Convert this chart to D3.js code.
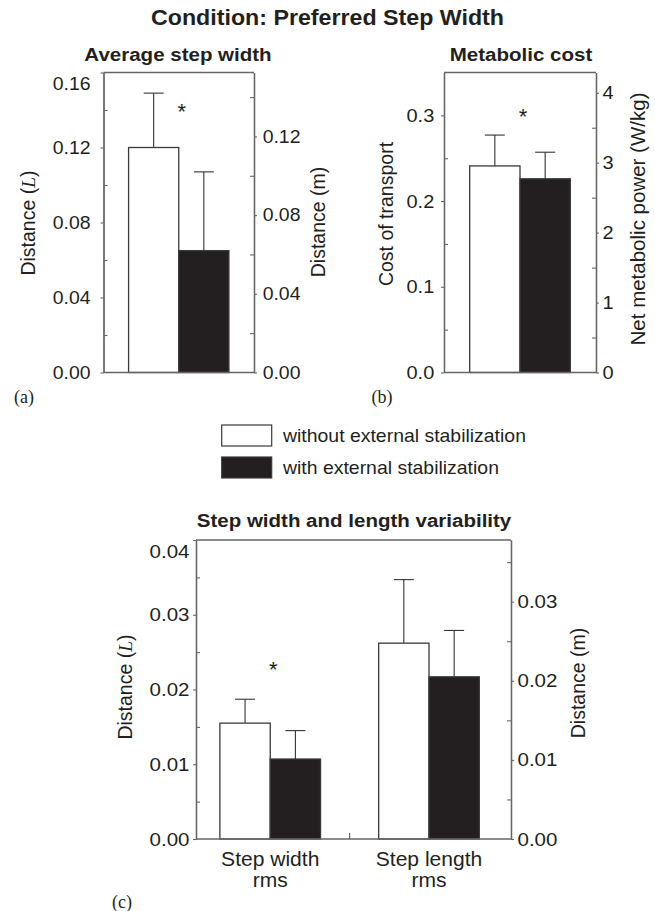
<!DOCTYPE html>
<html>
<head>
<meta charset="utf-8">
<script src="https://cdn.jsdelivr.net/npm/d3@7/dist/d3.min.js"></script>
<style>
  html, body { margin: 0; padding: 0; background: #fff; }
  svg { display: block; }
</style>
</head>
<body>
<svg id="chart" width="655" height="911"></svg>
<script>
// ---------------- DATA ----------------
const seriesNames = ["without external stabilization", "with external stabilization"];

// (a) Average step width, in leg lengths L
const stepWidthMean = [0.120, 0.065];
const stepWidthErr  = [0.029, 0.042];
const stepWidthSig  = 0.1417;

// (b) Metabolic cost, cost of transport
const costMean = [0.241, 0.226];
const costErr  = [0.036, 0.031];
const costSig  = 0.304;

// (c) Step width and length variability, in L
const varCategories = ["Step width rms", "Step length rms"];
const varMeanWithout = [0.0155, 0.0262];
const varErrWithout  = [0.0032, 0.0085];
const varMeanWith    = [0.0107, 0.0217];
const varErrWith     = [0.0038, 0.0062];
const varSig = [0.0233, null];

// tick values
const aLeftTicks  = [0, 0.04, 0.08, 0.12, 0.16];
const aLeftMinor  = [0.02, 0.06, 0.10, 0.14];
const aRightTicks = [0, 0.04, 0.08, 0.12];
const aRightMinor = [0.02, 0.06, 0.10, 0.14];
const bLeftTicks  = [0, 0.1, 0.2, 0.3];
const bLeftMinor  = [0.05, 0.15, 0.25];
const bRightTicks = [0, 1, 2, 3, 4];
const bRightMinor = [0.5, 1.5, 2.5, 3.5];
const cLeftTicks  = [0, 0.01, 0.02, 0.03, 0.04];
const cLeftMinor  = [0.005, 0.015, 0.025, 0.035];
const cRightTicks = [0, 0.01, 0.02, 0.03];
const cRightMinor = [0.005, 0.015, 0.025, 0.035];

// ---------------- STYLE ----------------
const SANS = "'Liberation Sans', Arial, Helvetica, sans-serif";
const SERIF = "'Liberation Serif', 'Times New Roman', serif";
const TXT = "#231f20";
const SX = 1.08;
const fills = ["#ffffff", "#231f20"];
const AXIS_COLOR = "#666666";

const svg = d3.select("#chart");

function hText(x, y, str, opts = {}) {
  const t = svg.append("text")
    .attr("transform", `translate(${x},${y}) scale(${opts.sx ?? SX},1)`)
    .attr("text-anchor", opts.anchor || "middle")
    .attr("font-family", opts.family || SANS)
    .attr("font-size", opts.size || 18)
    .attr("font-weight", opts.weight || "normal")
    .attr("fill", TXT)
    .text(str);
  if (opts.dy) t.attr("dy", opts.dy);
  return t;
}

function vText(x, y, parts, size) {
  const t = svg.append("text")
    .attr("transform", `translate(${x},${y}) rotate(-90)`)
    .attr("text-anchor", "middle")
    .attr("dy", "0.35em")
    .attr("font-family", SANS)
    .attr("font-size", size)
    .attr("fill", TXT);
  parts.forEach(p => {
    const s = t.append("tspan").text(p.t);
    if (p.italic) s.attr("font-family", SERIF).attr("font-style", "italic");
  });
  return t;
}

function panel(cfg) {
  const { x0, x1, y0, y1 } = cfg;
  const y  = d3.scaleLinear().domain(cfg.yDomain).range([y1, y0]);
  const y2 = d3.scaleLinear().domain(cfg.y2Domain).range([y1, y0]);
  const x = d3.scaleBand().domain(cfg.cats).range([x0, x1])
    .paddingInner(cfg.pi).paddingOuter(cfg.po).align(cfg.align);
  const xs = d3.scaleBand().domain([0, 1]).range([0, x.bandwidth()]);
  const g = svg.append("g");

  // bars + error bars
  cfg.cats.forEach((c, i) => {
    [0, 1].forEach(s => {
      const m = cfg.means[s][i], e = cfg.errs[s][i];
      const bx = x(c) + xs(s), bw = xs.bandwidth(), cx = bx + bw / 2;
      g.append("line").attr("x1", cx).attr("x2", cx)
        .attr("y1", y(m)).attr("y2", y(m + e))
        .attr("stroke", "#333").attr("stroke-width", 1.1);
      g.append("line").attr("x1", cx - 10).attr("x2", cx + 10)
        .attr("y1", y(m + e)).attr("y2", y(m + e))
        .attr("stroke", "#333").attr("stroke-width", 1.1);
      g.append("rect").attr("x", bx).attr("y", y(m))
        .attr("width", bw).attr("height", y(0) - y(m))
        .attr("fill", fills[s]).attr("stroke", "#3a3a3a").attr("stroke-width", 1.3);
    });
    if (cfg.sig[i] != null) {
      svg.append("text").attr("x", x(c) + x.bandwidth() / 2 + 3).attr("y", y(cfg.sig[i]) + 12)
        .attr("text-anchor", "middle").attr("font-family", SANS).attr("font-size", 22)
        .attr("fill", TXT).text("*");
    }
  });

  // frame top & bottom
  g.append("line").attr("x1", x0).attr("x2", x1).attr("y1", y0).attr("y2", y0)
    .attr("stroke", AXIS_COLOR).attr("stroke-width", 1.3);
  g.append("line").attr("x1", x0).attr("x2", x1).attr("y1", y1).attr("y2", y1)
    .attr("stroke", AXIS_COLOR).attr("stroke-width", 1.3);

  // divider ticks between categories
  for (let i = 1; i < cfg.cats.length; i++) {
    const dx = (x(cfg.cats[i - 1]) + x.bandwidth() + x(cfg.cats[i])) / 2;
    g.append("line").attr("x1", dx).attr("x2", dx).attr("y1", y1).attr("y2", y1 - 6)
      .attr("stroke", AXIS_COLOR).attr("stroke-width", 1.2);
  }

  function styleAxis(sel) {
    sel.select(".domain").attr("stroke", AXIS_COLOR).attr("stroke-width", 1.3);
    sel.selectAll(".tick line").attr("stroke", AXIS_COLOR).attr("stroke-width", 1.1);
  }

  // left axis
  const la = g.append("g").attr("transform", `translate(${x0},0)`)
    .call(d3.axisLeft(y).tickValues(cfg.lTicks).tickFormat(d3.format(cfg.lFmt))
      .tickSize(3).tickSizeOuter(0).tickPadding(cfg.lPad));
  g.append("g").attr("transform", `translate(${x0},0)`)
    .call(d3.axisLeft(y).tickValues(cfg.lMinor).tickFormat("").tickSize(-4).tickSizeOuter(0))
    .call(styleAxis);
  styleAxis(la);
  la.selectAll(".tick text")
    .attr("font-family", SANS).attr("font-size", cfg.tickSize).attr("fill", TXT)
    .attr("transform", `scale(${SX},1)`)
    .attr("y", d => (y(d) < y0 + 8 ? 11 : 0));

  // right axis
  const ra = g.append("g").attr("transform", `translate(${x1},0)`)
    .call(d3.axisRight(y2).tickValues(cfg.rTicks).tickFormat(d3.format(cfg.rFmt))
      .tickSize(3).tickSizeOuter(0).tickPadding(cfg.rPad));
  g.append("g").attr("transform", `translate(${x1},0)`)
    .call(d3.axisRight(y2).tickValues(cfg.rMinor).tickFormat("").tickSize(-4).tickSizeOuter(0))
    .call(styleAxis);
  styleAxis(ra);
  ra.selectAll(".tick text")
    .attr("font-family", SANS).attr("font-size", cfg.tickSize).attr("fill", TXT)
    .attr("transform", `scale(${SX},1)`)
    .attr("y", d => (y2(d) < y0 + 8 ? 11 : 0));
  [la, ra].forEach(a => a.attr("font-size", null).attr("font-family", null));

  return { x, y, y2 };
}

// ---------------- TITLES ----------------
hText(327.5, 25, "Condition: Preferred Step Width", { size: 21.5, weight: "bold" });
hText(178, 60.5, "Average step width", { size: 19, weight: "bold" });
hText(521, 61, "Metabolic cost", { size: 19, weight: "bold" });
hText(354, 527, "Step width and length variability", { size: 19, weight: "bold" });

// ---------------- PANEL (a) ----------------
panel({
  x0: 103.5, x1: 254, y0: 72.5, y1: 372.5,
  yDomain: [0, 0.16], y2Domain: [0, 0.1525],
  cats: ["Preferred"], pi: 0, po: 0.25, align: 0.5,
  means: [[stepWidthMean[0]], [stepWidthMean[1]]],
  errs: [[stepWidthErr[0]], [stepWidthErr[1]]],
  sig: [stepWidthSig],
  lTicks: aLeftTicks, lMinor: aLeftMinor, lFmt: ".2f", lPad: 9,
  rTicks: aRightTicks, rMinor: aRightMinor, rFmt: ".2f", rPad: 5,
  tickSize: 18
});
vText(28, 223, [{ t: "Distance (" }, { t: "L", italic: true }, { t: ")" }], 19.5);
vText(318, 222, [{ t: "Distance (m)" }], 19.5);
hText(24, 403, "(a)", { family: SERIF, size: 18, sx: 1 });

// ---------------- PANEL (b) ----------------
panel({
  x0: 444, x1: 596, y0: 72.5, y1: 372.5,
  yDomain: [0, 0.35], y2Domain: [0, 4.29],
  cats: ["Preferred"], pi: 0, po: 0.255, align: 0.5,
  means: [[costMean[0]], [costMean[1]]],
  errs: [[costErr[0]], [costErr[1]]],
  sig: [costSig],
  lTicks: bLeftTicks, lMinor: bLeftMinor, lFmt: ".1f", lPad: 6,
  rTicks: bRightTicks, rMinor: bRightMinor, rFmt: "d", rPad: 3,
  tickSize: 18.5
});
vText(386.5, 214, [{ t: "Cost of transport" }], 19.5);
vText(638, 219, [{ t: "Net metabolic power (W/kg)" }], 20.5);
hText(382, 403, "(b)", { family: SERIF, size: 18, sx: 1 });

// ---------------- LEGEND ----------------
const legendY = [425, 457];
seriesNames.forEach((name, i) => {
  svg.append("rect").attr("x", 221.7).attr("y", legendY[i]).attr("width", 50).attr("height", 21)
    .attr("fill", fills[i]).attr("stroke", "#3a3a3a").attr("stroke-width", 1.2);
  hText(283, legendY[i] + 10.5, name, { anchor: "start", size: 18, dy: "0.35em" });
});

// ---------------- PANEL (c) ----------------
const pc = panel({
  x0: 196, x1: 511, y0: 540, y1: 839,
  yDomain: [0, 0.04], y2Domain: [0, 0.0378],
  cats: varCategories, pi: 0.366, po: 0.175, align: 0.43,
  means: [varMeanWithout, varMeanWith],
  errs: [varErrWithout, varErrWith],
  sig: varSig,
  lTicks: cLeftTicks, lMinor: cLeftMinor, lFmt: ".2f", lPad: 3,
  rTicks: cRightTicks, rMinor: cRightMinor, rFmt: ".2f", rPad: 3,
  tickSize: 19
});
varCategories.forEach(c => {
  const cx = pc.x(c) + pc.x.bandwidth() / 2;
  const words = c.split(" ");
  hText(cx, 866, words.slice(0, 2).join(" "), { size: 19.5 });
  hText(cx, 887, words[2], { size: 19.5 });
});
vText(125, 687, [{ t: "Distance (" }, { t: "L", italic: true }, { t: ")" }], 19.5);
vText(578, 683, [{ t: "Distance (m)" }], 19.5);
hText(122, 908, "(c)", { family: SERIF, size: 18, sx: 1 });
</script>
</body>
</html>
